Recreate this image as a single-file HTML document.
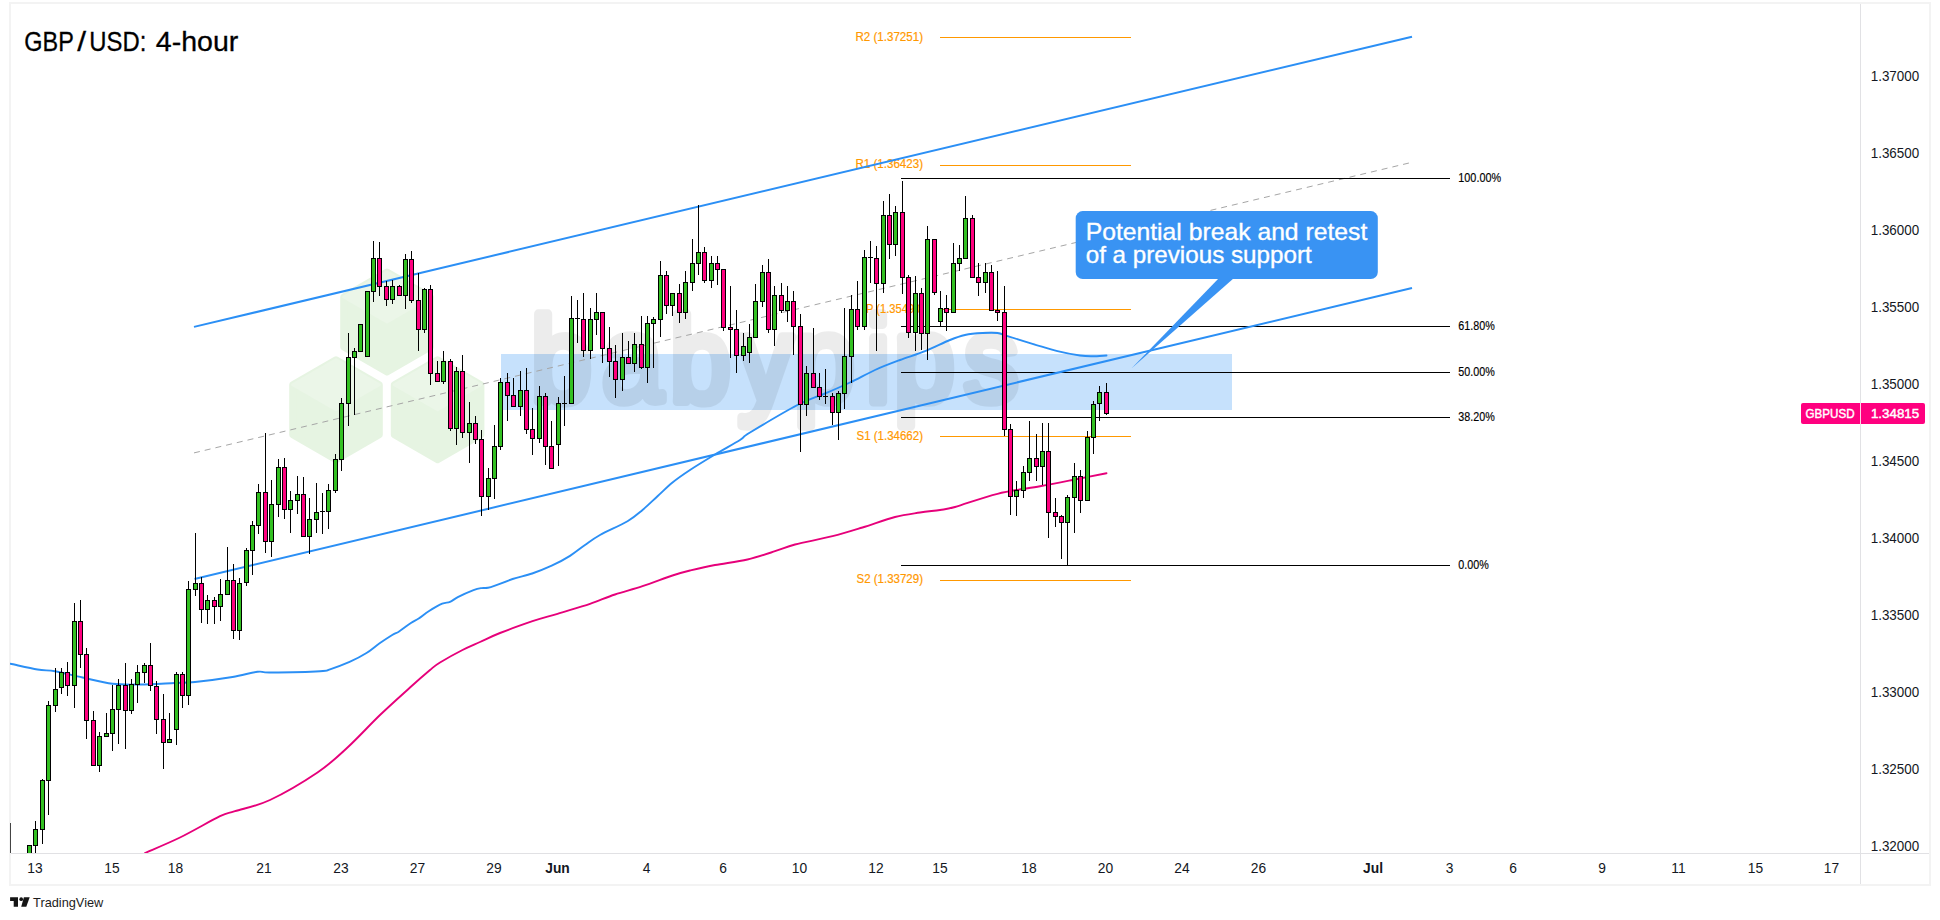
<!DOCTYPE html>
<html><head><meta charset="utf-8"><title>GBP/USD: 4-hour</title>
<style>html,body{margin:0;padding:0;background:#fff;}body{width:1940px;height:920px;overflow:hidden;}svg{display:block;}</style>
</head><body>
<svg width="1940" height="920" viewBox="0 0 1940 920" font-family="Liberation Sans, Arial, sans-serif">
<rect width="1940" height="920" fill="#fff"/>
<rect x="10" y="3" width="1920" height="882" fill="#fff" stroke="#f3f3f3" stroke-width="2"/>
<rect x="1860" y="4" width="1" height="880" fill="#e1e1e4"/>
<rect x="11" y="853" width="1918" height="1" fill="#e1e1e4"/>
<defs><clipPath id="pane"><rect x="10" y="4" width="1850" height="849"/></clipPath></defs>
<g clip-path="url(#pane)">
<polygon points="387.0,272.0 430.3,297.0 430.3,347.0 387.0,372.0 343.7,347.0 343.7,297.0" fill="#e6f4e2" stroke="#e6f4e2" stroke-width="7" stroke-linejoin="round"/>
<polygon points="387.0,272.0 430.3,297.0 387.0,322.0 343.7,297.0" fill="#ebf6e8" stroke="#ebf6e8" stroke-width="3" stroke-linejoin="round"/>
<polygon points="336.0,359.7 379.3,384.7 379.3,434.7 336.0,459.7 292.7,434.7 292.7,384.7" fill="#e6f4e2" stroke="#e6f4e2" stroke-width="7" stroke-linejoin="round"/>
<polygon points="336.0,359.7 379.3,384.7 336.0,409.7 292.7,384.7" fill="#ebf6e8" stroke="#ebf6e8" stroke-width="3" stroke-linejoin="round"/>
<polygon points="437.6,359.7 480.9,384.7 480.9,434.7 437.6,459.7 394.3,434.7 394.3,384.7" fill="#e6f4e2" stroke="#e6f4e2" stroke-width="7" stroke-linejoin="round"/>
<polygon points="437.6,359.7 480.9,384.7 437.6,409.7 394.3,384.7" fill="#ebf6e8" stroke="#ebf6e8" stroke-width="3" stroke-linejoin="round"/>
<rect x="501" y="354" width="731" height="56" fill="#2b8ff5" fill-opacity="0.27"/>
<g opacity="0.07"><text transform="scale(0.9,1)" x="590.0 668.9 744.4 820.0 882.2 962.2 993.3 1071.1" y="401.5" font-size="121" fill="#000" stroke="#000" stroke-width="9.5" stroke-linejoin="round" stroke-linecap="round">babypips</text></g>
<line x1="194" y1="452.9" x2="1412" y2="162.3" stroke="#a6a6a6" stroke-width="1" stroke-dasharray="6 5"/>
<line x1="940" y1="37.5" x2="1131" y2="37.5" stroke="#ff9800" stroke-width="1"/>
<line x1="940" y1="165.5" x2="1131" y2="165.5" stroke="#ff9800" stroke-width="1"/>
<line x1="940" y1="309.5" x2="1131" y2="309.5" stroke="#ff9800" stroke-width="1"/>
<line x1="940" y1="436.5" x2="1131" y2="436.5" stroke="#ff9800" stroke-width="1"/>
<line x1="940" y1="580.5" x2="1131" y2="580.5" stroke="#ff9800" stroke-width="1"/>
<line x1="901" y1="178.5" x2="1450" y2="178.5" stroke="#000" stroke-width="1"/>
<line x1="901" y1="326.5" x2="1450" y2="326.5" stroke="#000" stroke-width="1"/>
<line x1="901" y1="372.5" x2="1450" y2="372.5" stroke="#000" stroke-width="1"/>
<line x1="901" y1="417.5" x2="1450" y2="417.5" stroke="#000" stroke-width="1"/>
<line x1="901" y1="565.5" x2="1450" y2="565.5" stroke="#000" stroke-width="1"/>
<text x="855.5" y="41.3" font-size="12" fill="#ff9800" stroke="#ff9800" stroke-width="0.2" textLength="67.5" lengthAdjust="spacingAndGlyphs">R2 (1.37251)</text>
<text x="855.5" y="168.3" font-size="12" fill="#ff9800" stroke="#ff9800" stroke-width="0.2" textLength="67.5" lengthAdjust="spacingAndGlyphs">R1 (1.36423)</text>
<text x="866" y="312.8" font-size="12" fill="#ff9800" stroke="#ff9800" stroke-width="0.2" textLength="58" lengthAdjust="spacingAndGlyphs">P (1.35490)</text>
<text x="856.5" y="440.3" font-size="12" fill="#ff9800" stroke="#ff9800" stroke-width="0.2" textLength="66.5" lengthAdjust="spacingAndGlyphs">S1 (1.34662)</text>
<text x="856.5" y="583.3" font-size="12" fill="#ff9800" stroke="#ff9800" stroke-width="0.2" textLength="66.5" lengthAdjust="spacingAndGlyphs">S2 (1.33729)</text>
<line x1="194" y1="326.9" x2="1412" y2="36.7" stroke="#2b8ff5" stroke-width="2"/>
<line x1="194.5" y1="579" x2="1412" y2="288" stroke="#2b8ff5" stroke-width="2"/>
<path d="M10.5,663.8 C15.0,664.7 30.1,668.2 37.5,669.5 C44.9,670.8 47.5,669.9 55.0,671.2 C62.5,672.6 72.9,675.4 82.5,677.5 C92.1,679.6 102.9,682.6 112.5,683.8 C122.1,684.9 129.6,684.6 140.0,684.5 C150.4,684.4 165.8,683.4 175.0,683.0 C184.2,682.6 185.4,683.0 195.0,682.0 C204.6,681.0 222.1,678.7 232.5,677.0 C242.9,675.3 251.2,672.5 257.5,671.8 C263.8,671.0 259.6,672.6 270.0,672.5 C280.4,672.4 310.0,671.8 320.0,671.2 C330.0,670.7 325.1,670.9 330.0,669.3 C334.9,667.7 343.5,664.6 349.6,661.9 C355.7,659.2 361.5,656.1 366.5,653.0 C371.5,649.9 375.2,646.3 379.6,643.3 C384.0,640.3 389.4,636.8 392.6,634.8 C395.9,632.8 396.1,633.5 399.1,631.5 C402.2,629.5 407.6,625.2 410.9,623.0 C414.2,620.8 415.7,620.5 418.7,618.5 C421.7,616.5 425.2,613.5 429.1,611.0 C433.0,608.5 438.7,605.2 442.2,603.7 C445.7,602.2 447.4,603.0 450.0,601.9 C452.6,600.8 453.9,599.2 457.8,597.2 C461.7,595.2 469.6,591.7 473.5,590.2 C477.4,588.7 478.9,588.5 481.3,588.1 C483.7,587.7 485.6,588.2 487.8,587.8 C490.0,587.4 490.2,587.4 494.3,585.9 C498.4,584.4 506.3,581.1 512.6,579.0 C518.9,576.9 525.7,575.7 532.2,573.5 C538.7,571.3 545.4,568.6 551.7,565.7 C558.0,562.8 564.5,559.4 570.0,555.9 C575.5,552.4 580.0,548.5 585.0,545.0 C590.0,541.5 592.9,539.0 600.0,535.0 C607.1,531.0 620.4,525.4 627.5,521.2 C634.6,517.1 637.5,514.2 642.5,510.0 C647.5,505.8 652.5,500.8 657.5,496.2 C662.5,491.7 667.1,486.9 672.5,482.5 C677.9,478.1 682.9,474.7 690.0,470.0 C697.1,465.3 706.7,459.5 715.0,454.5 C723.3,449.5 734.2,443.7 740.0,440.0 C745.8,436.3 740.4,438.3 750.0,432.5 C759.6,426.7 785.0,411.5 797.5,405.0 C810.0,398.5 816.2,397.2 825.0,393.5 C833.8,389.8 841.7,386.4 850.0,382.5 C858.3,378.6 866.7,373.8 875.0,370.0 C883.3,366.2 891.7,363.1 900.0,360.0 C908.3,356.9 916.7,354.6 925.0,351.2 C933.3,347.9 943.3,342.7 950.0,340.0 C956.7,337.3 959.6,336.2 965.0,335.0 C970.4,333.8 977.1,333.3 982.5,333.0 C987.9,332.7 993.3,332.5 997.5,333.0 C1001.7,333.5 1001.7,334.5 1007.5,336.2 C1013.3,338.0 1024.2,341.2 1032.5,343.8 C1040.8,346.2 1049.6,349.3 1057.5,351.2 C1065.4,353.2 1074.2,354.7 1080.0,355.5 C1085.8,356.3 1088.1,356.2 1092.5,356.2 C1096.9,356.2 1104.2,355.6 1106.5,355.5" fill="none" stroke="#2b8ff5" stroke-width="1.9" stroke-linejoin="round" stroke-linecap="round"/>
<path d="M145.0,853.0 C150.8,850.4 167.5,843.6 180.0,837.5 C192.5,831.4 210.8,820.6 220.0,816.2 C229.2,811.9 226.7,814.0 235.0,811.2 C243.3,808.5 256.2,806.5 270.0,800.0 C283.8,793.5 304.6,781.2 317.5,772.5 C330.4,763.8 337.1,757.1 347.5,747.5 C357.9,737.9 369.6,725.0 380.0,715.0 C390.4,705.0 401.7,695.0 410.0,687.5 C418.3,680.0 425.0,674.2 430.0,670.0 C435.0,665.8 434.6,665.8 440.0,662.5 C445.4,659.2 455.8,653.4 462.5,650.0 C469.2,646.6 473.8,644.8 480.0,642.0 C486.2,639.2 491.2,636.5 500.0,633.0 C508.8,629.5 522.9,624.5 532.5,621.2 C542.1,618.0 547.9,616.7 557.5,613.8 C567.1,610.8 580.4,607.0 590.0,603.8 C599.6,600.5 606.2,597.4 615.0,594.5 C623.8,591.6 632.9,589.4 642.5,586.2 C652.1,583.1 664.6,578.1 672.5,575.5 C680.4,572.9 682.9,572.2 690.0,570.5 C697.1,568.8 705.4,566.8 715.0,565.0 C724.6,563.2 737.5,561.8 747.5,559.5 C757.5,557.2 767.1,553.8 775.0,551.2 C782.9,548.8 785.4,547.0 795.0,544.5 C804.6,542.0 821.2,539.1 832.5,536.2 C843.8,533.4 852.1,530.7 862.5,527.5 C872.9,524.3 885.4,519.5 895.0,517.0 C904.6,514.5 912.5,513.7 920.0,512.5 C927.5,511.3 934.2,510.9 940.0,510.0 C945.8,509.1 945.4,509.7 955.0,507.0 C964.6,504.3 983.3,497.2 997.5,493.8 C1011.7,490.3 1027.5,488.5 1040.0,486.2 C1052.5,484.0 1061.4,482.2 1072.5,480.0 C1083.6,477.8 1100.8,474.4 1106.5,473.2" fill="none" stroke="#e6007a" stroke-width="1.9" stroke-linejoin="round" stroke-linecap="round"/>
<g shape-rendering="crispEdges">
<rect x="10" y="823" width="1" height="30" fill="#444"/>
<rect x="29.0" y="846" width="1" height="14" fill="#000"/>
<rect x="27.0" y="845" width="5" height="15" fill="#000"/>
<rect x="28.0" y="846" width="3" height="13" fill="#33c022"/>
<rect x="35.0" y="821" width="1" height="39" fill="#000"/>
<rect x="33.0" y="829" width="5" height="17" fill="#000"/>
<rect x="34.0" y="830" width="3" height="15" fill="#33c022"/>
<rect x="42.0" y="779" width="1" height="65" fill="#000"/>
<rect x="40.0" y="780" width="5" height="50" fill="#000"/>
<rect x="41.0" y="781" width="3" height="48" fill="#33c022"/>
<rect x="48.0" y="701" width="1" height="114" fill="#000"/>
<rect x="46.0" y="705" width="5" height="76" fill="#000"/>
<rect x="47.0" y="706" width="3" height="74" fill="#33c022"/>
<rect x="55.0" y="668" width="1" height="44" fill="#000"/>
<rect x="53.0" y="689" width="5" height="17" fill="#000"/>
<rect x="54.0" y="690" width="3" height="15" fill="#33c022"/>
<rect x="61.0" y="668" width="1" height="26" fill="#000"/>
<rect x="59.0" y="672" width="5" height="16" fill="#000"/>
<rect x="60.0" y="673" width="3" height="14" fill="#33c022"/>
<rect x="67.0" y="662" width="1" height="34" fill="#000"/>
<rect x="65.0" y="672" width="5" height="14" fill="#000"/>
<rect x="66.0" y="673" width="3" height="12" fill="#ff007f"/>
<rect x="74.0" y="603" width="1" height="105" fill="#000"/>
<rect x="72.0" y="621" width="5" height="65" fill="#000"/>
<rect x="73.0" y="622" width="3" height="63" fill="#33c022"/>
<rect x="80.0" y="600" width="1" height="68" fill="#000"/>
<rect x="78.0" y="621" width="5" height="34" fill="#000"/>
<rect x="79.0" y="622" width="3" height="32" fill="#ff007f"/>
<rect x="86.0" y="648" width="1" height="91" fill="#000"/>
<rect x="84.0" y="654" width="5" height="67" fill="#000"/>
<rect x="85.0" y="655" width="3" height="65" fill="#ff007f"/>
<rect x="93.0" y="711" width="1" height="55" fill="#000"/>
<rect x="91.0" y="720" width="5" height="46" fill="#000"/>
<rect x="92.0" y="721" width="3" height="44" fill="#ff007f"/>
<rect x="99.0" y="732" width="1" height="40" fill="#000"/>
<rect x="97.0" y="736" width="5" height="30" fill="#000"/>
<rect x="98.0" y="737" width="3" height="28" fill="#33c022"/>
<rect x="106.0" y="713" width="1" height="24" fill="#000"/>
<rect x="104.0" y="733" width="5" height="4" fill="#000"/>
<rect x="105.0" y="734" width="3" height="2" fill="#33c022"/>
<rect x="112.0" y="685" width="1" height="66" fill="#000"/>
<rect x="110.0" y="709" width="5" height="25" fill="#000"/>
<rect x="111.0" y="710" width="3" height="23" fill="#33c022"/>
<rect x="118.0" y="679" width="1" height="65" fill="#000"/>
<rect x="116.0" y="685" width="5" height="25" fill="#000"/>
<rect x="117.0" y="686" width="3" height="23" fill="#33c022"/>
<rect x="125.0" y="663" width="1" height="86" fill="#000"/>
<rect x="123.0" y="685" width="5" height="26" fill="#000"/>
<rect x="124.0" y="686" width="3" height="24" fill="#ff007f"/>
<rect x="131.0" y="679" width="1" height="35" fill="#000"/>
<rect x="129.0" y="684" width="5" height="27" fill="#000"/>
<rect x="130.0" y="685" width="3" height="25" fill="#33c022"/>
<rect x="137.0" y="665" width="1" height="38" fill="#000"/>
<rect x="135.0" y="672" width="5" height="13" fill="#000"/>
<rect x="136.0" y="673" width="3" height="11" fill="#33c022"/>
<rect x="144.0" y="663" width="1" height="20" fill="#000"/>
<rect x="142.0" y="665" width="5" height="8" fill="#000"/>
<rect x="143.0" y="666" width="3" height="6" fill="#33c022"/>
<rect x="150.0" y="643" width="1" height="48" fill="#000"/>
<rect x="148.0" y="665" width="5" height="21" fill="#000"/>
<rect x="149.0" y="666" width="3" height="19" fill="#ff007f"/>
<rect x="156.0" y="681" width="1" height="53" fill="#000"/>
<rect x="154.0" y="686" width="5" height="34" fill="#000"/>
<rect x="155.0" y="687" width="3" height="32" fill="#ff007f"/>
<rect x="163.0" y="694" width="1" height="75" fill="#000"/>
<rect x="161.0" y="719" width="5" height="24" fill="#000"/>
<rect x="162.0" y="720" width="3" height="22" fill="#ff007f"/>
<rect x="169.0" y="713" width="1" height="30" fill="#000"/>
<rect x="167.0" y="739" width="5" height="4" fill="#000"/>
<rect x="168.0" y="740" width="3" height="2" fill="#33c022"/>
<rect x="176.0" y="672" width="1" height="73" fill="#000"/>
<rect x="174.0" y="674" width="5" height="56" fill="#000"/>
<rect x="175.0" y="675" width="3" height="54" fill="#33c022"/>
<rect x="182.0" y="672" width="1" height="36" fill="#000"/>
<rect x="180.0" y="674" width="5" height="22" fill="#000"/>
<rect x="181.0" y="675" width="3" height="20" fill="#ff007f"/>
<rect x="188.0" y="581" width="1" height="124" fill="#000"/>
<rect x="186.0" y="589" width="5" height="107" fill="#000"/>
<rect x="187.0" y="590" width="3" height="105" fill="#33c022"/>
<rect x="195.0" y="533" width="1" height="63" fill="#000"/>
<rect x="193.0" y="583" width="5" height="7" fill="#000"/>
<rect x="194.0" y="584" width="3" height="5" fill="#33c022"/>
<rect x="201.0" y="577" width="1" height="46" fill="#000"/>
<rect x="199.0" y="583" width="5" height="27" fill="#000"/>
<rect x="200.0" y="584" width="3" height="25" fill="#ff007f"/>
<rect x="207.0" y="595" width="1" height="29" fill="#000"/>
<rect x="205.0" y="600" width="5" height="10" fill="#000"/>
<rect x="206.0" y="601" width="3" height="8" fill="#33c022"/>
<rect x="214.0" y="597" width="1" height="27" fill="#000"/>
<rect x="212.0" y="600" width="5" height="7" fill="#000"/>
<rect x="213.0" y="601" width="3" height="5" fill="#ff007f"/>
<rect x="220.0" y="579" width="1" height="42" fill="#000"/>
<rect x="218.0" y="594" width="5" height="13" fill="#000"/>
<rect x="219.0" y="595" width="3" height="11" fill="#33c022"/>
<rect x="227.0" y="547" width="1" height="48" fill="#000"/>
<rect x="225.0" y="580" width="5" height="15" fill="#000"/>
<rect x="226.0" y="581" width="3" height="13" fill="#33c022"/>
<rect x="233.0" y="564" width="1" height="75" fill="#000"/>
<rect x="231.0" y="580" width="5" height="51" fill="#000"/>
<rect x="232.0" y="581" width="3" height="49" fill="#ff007f"/>
<rect x="239.0" y="578" width="1" height="62" fill="#000"/>
<rect x="237.0" y="583" width="5" height="48" fill="#000"/>
<rect x="238.0" y="584" width="3" height="46" fill="#33c022"/>
<rect x="246.0" y="548" width="1" height="38" fill="#000"/>
<rect x="244.0" y="550" width="5" height="33" fill="#000"/>
<rect x="245.0" y="551" width="3" height="31" fill="#33c022"/>
<rect x="252.0" y="521" width="1" height="54" fill="#000"/>
<rect x="250.0" y="525" width="5" height="26" fill="#000"/>
<rect x="251.0" y="526" width="3" height="24" fill="#33c022"/>
<rect x="258.0" y="484" width="1" height="50" fill="#000"/>
<rect x="256.0" y="492" width="5" height="34" fill="#000"/>
<rect x="257.0" y="493" width="3" height="32" fill="#33c022"/>
<rect x="265.0" y="433" width="1" height="120" fill="#000"/>
<rect x="263.0" y="492" width="5" height="50" fill="#000"/>
<rect x="264.0" y="493" width="3" height="48" fill="#ff007f"/>
<rect x="271.0" y="480" width="1" height="77" fill="#000"/>
<rect x="269.0" y="504" width="5" height="38" fill="#000"/>
<rect x="270.0" y="505" width="3" height="36" fill="#33c022"/>
<rect x="278.0" y="459" width="1" height="58" fill="#000"/>
<rect x="276.0" y="467" width="5" height="38" fill="#000"/>
<rect x="277.0" y="468" width="3" height="36" fill="#33c022"/>
<rect x="284.0" y="458" width="1" height="61" fill="#000"/>
<rect x="282.0" y="467" width="5" height="43" fill="#000"/>
<rect x="283.0" y="468" width="3" height="41" fill="#ff007f"/>
<rect x="290.0" y="491" width="1" height="42" fill="#000"/>
<rect x="288.0" y="500" width="5" height="10" fill="#000"/>
<rect x="289.0" y="501" width="3" height="8" fill="#33c022"/>
<rect x="297.0" y="476" width="1" height="38" fill="#000"/>
<rect x="295.0" y="494" width="5" height="7" fill="#000"/>
<rect x="296.0" y="495" width="3" height="5" fill="#33c022"/>
<rect x="303.0" y="477" width="1" height="60" fill="#000"/>
<rect x="301.0" y="494" width="5" height="43" fill="#000"/>
<rect x="302.0" y="495" width="3" height="41" fill="#ff007f"/>
<rect x="309.0" y="498" width="1" height="56" fill="#000"/>
<rect x="307.0" y="519" width="5" height="18" fill="#000"/>
<rect x="308.0" y="520" width="3" height="16" fill="#33c022"/>
<rect x="316.0" y="483" width="1" height="50" fill="#000"/>
<rect x="314.0" y="512" width="5" height="8" fill="#000"/>
<rect x="315.0" y="513" width="3" height="6" fill="#33c022"/>
<rect x="322.0" y="493" width="1" height="41" fill="#000"/>
<rect x="320.0" y="510.5" width="5" height="1" fill="#000"/>
<rect x="328.0" y="484" width="1" height="45" fill="#000"/>
<rect x="326.0" y="490" width="5" height="22" fill="#000"/>
<rect x="327.0" y="491" width="3" height="20" fill="#33c022"/>
<rect x="335.0" y="454" width="1" height="39" fill="#000"/>
<rect x="333.0" y="459" width="5" height="32" fill="#000"/>
<rect x="334.0" y="460" width="3" height="30" fill="#33c022"/>
<rect x="341.0" y="398" width="1" height="73" fill="#000"/>
<rect x="339.0" y="403" width="5" height="57" fill="#000"/>
<rect x="340.0" y="404" width="3" height="55" fill="#33c022"/>
<rect x="348.0" y="333" width="1" height="93" fill="#000"/>
<rect x="346.0" y="357" width="5" height="47" fill="#000"/>
<rect x="347.0" y="358" width="3" height="45" fill="#33c022"/>
<rect x="354.0" y="348" width="1" height="67" fill="#000"/>
<rect x="352.0" y="351" width="5" height="7" fill="#000"/>
<rect x="353.0" y="352" width="3" height="5" fill="#33c022"/>
<rect x="360.0" y="325" width="1" height="27" fill="#000"/>
<rect x="358.0" y="324" width="5" height="28" fill="#000"/>
<rect x="359.0" y="325" width="3" height="26" fill="#33c022"/>
<rect x="367.0" y="292" width="1" height="65" fill="#000"/>
<rect x="365.0" y="291" width="5" height="66" fill="#000"/>
<rect x="366.0" y="292" width="3" height="64" fill="#33c022"/>
<rect x="373.0" y="241" width="1" height="61" fill="#000"/>
<rect x="371.0" y="258" width="5" height="34" fill="#000"/>
<rect x="372.0" y="259" width="3" height="32" fill="#33c022"/>
<rect x="379.0" y="242" width="1" height="54" fill="#000"/>
<rect x="377.0" y="258" width="5" height="29" fill="#000"/>
<rect x="378.0" y="259" width="3" height="27" fill="#ff007f"/>
<rect x="386.0" y="281" width="1" height="25" fill="#000"/>
<rect x="384.0" y="286" width="5" height="14" fill="#000"/>
<rect x="385.0" y="287" width="3" height="12" fill="#ff007f"/>
<rect x="392.0" y="280" width="1" height="24" fill="#000"/>
<rect x="390.0" y="286" width="5" height="14" fill="#000"/>
<rect x="391.0" y="287" width="3" height="12" fill="#33c022"/>
<rect x="399.0" y="285" width="1" height="11" fill="#000"/>
<rect x="397.0" y="286" width="5" height="10" fill="#000"/>
<rect x="398.0" y="287" width="3" height="8" fill="#ff007f"/>
<rect x="405.0" y="254" width="1" height="55" fill="#000"/>
<rect x="403.0" y="259" width="5" height="37" fill="#000"/>
<rect x="404.0" y="260" width="3" height="35" fill="#33c022"/>
<rect x="411.0" y="251" width="1" height="52" fill="#000"/>
<rect x="409.0" y="259" width="5" height="42" fill="#000"/>
<rect x="410.0" y="260" width="3" height="40" fill="#ff007f"/>
<rect x="418.0" y="273" width="1" height="78" fill="#000"/>
<rect x="416.0" y="300" width="5" height="30" fill="#000"/>
<rect x="417.0" y="301" width="3" height="28" fill="#ff007f"/>
<rect x="424.0" y="288" width="1" height="45" fill="#000"/>
<rect x="422.0" y="289" width="5" height="41" fill="#000"/>
<rect x="423.0" y="290" width="3" height="39" fill="#33c022"/>
<rect x="430.0" y="285" width="1" height="100" fill="#000"/>
<rect x="428.0" y="289" width="5" height="85" fill="#000"/>
<rect x="429.0" y="290" width="3" height="83" fill="#ff007f"/>
<rect x="437.0" y="361" width="1" height="21" fill="#000"/>
<rect x="435.0" y="373" width="5" height="9" fill="#000"/>
<rect x="436.0" y="374" width="3" height="7" fill="#ff007f"/>
<rect x="443.0" y="351" width="1" height="33" fill="#000"/>
<rect x="441.0" y="361" width="5" height="21" fill="#000"/>
<rect x="442.0" y="362" width="3" height="19" fill="#33c022"/>
<rect x="450.0" y="359" width="1" height="72" fill="#000"/>
<rect x="448.0" y="361" width="5" height="68" fill="#000"/>
<rect x="449.0" y="362" width="3" height="66" fill="#ff007f"/>
<rect x="456.0" y="367" width="1" height="78" fill="#000"/>
<rect x="454.0" y="371" width="5" height="58" fill="#000"/>
<rect x="455.0" y="372" width="3" height="56" fill="#33c022"/>
<rect x="462.0" y="355" width="1" height="83" fill="#000"/>
<rect x="460.0" y="371" width="5" height="62" fill="#000"/>
<rect x="461.0" y="372" width="3" height="60" fill="#ff007f"/>
<rect x="469.0" y="402" width="1" height="61" fill="#000"/>
<rect x="467.0" y="423" width="5" height="10" fill="#000"/>
<rect x="468.0" y="424" width="3" height="8" fill="#33c022"/>
<rect x="475.0" y="416" width="1" height="28" fill="#000"/>
<rect x="473.0" y="423" width="5" height="17" fill="#000"/>
<rect x="474.0" y="424" width="3" height="15" fill="#ff007f"/>
<rect x="481.0" y="430" width="1" height="86" fill="#000"/>
<rect x="479.0" y="439" width="5" height="58" fill="#000"/>
<rect x="480.0" y="440" width="3" height="56" fill="#ff007f"/>
<rect x="488.0" y="468" width="1" height="42" fill="#000"/>
<rect x="486.0" y="478" width="5" height="19" fill="#000"/>
<rect x="487.0" y="479" width="3" height="17" fill="#33c022"/>
<rect x="494.0" y="425" width="1" height="74" fill="#000"/>
<rect x="492.0" y="446" width="5" height="33" fill="#000"/>
<rect x="493.0" y="447" width="3" height="31" fill="#33c022"/>
<rect x="500.0" y="378" width="1" height="72" fill="#000"/>
<rect x="498.0" y="382" width="5" height="65" fill="#000"/>
<rect x="499.0" y="383" width="3" height="63" fill="#33c022"/>
<rect x="507.0" y="373" width="1" height="48" fill="#000"/>
<rect x="505.0" y="382" width="5" height="14" fill="#000"/>
<rect x="506.0" y="383" width="3" height="12" fill="#ff007f"/>
<rect x="513.0" y="378" width="1" height="29" fill="#000"/>
<rect x="511.0" y="395" width="5" height="12" fill="#000"/>
<rect x="512.0" y="396" width="3" height="10" fill="#ff007f"/>
<rect x="520.0" y="371" width="1" height="45" fill="#000"/>
<rect x="518.0" y="390" width="5" height="17" fill="#000"/>
<rect x="519.0" y="391" width="3" height="15" fill="#33c022"/>
<rect x="526.0" y="368" width="1" height="66" fill="#000"/>
<rect x="524.0" y="390" width="5" height="40" fill="#000"/>
<rect x="525.0" y="391" width="3" height="38" fill="#ff007f"/>
<rect x="532.0" y="408" width="1" height="47" fill="#000"/>
<rect x="530.0" y="429" width="5" height="10" fill="#000"/>
<rect x="531.0" y="430" width="3" height="8" fill="#ff007f"/>
<rect x="539.0" y="386" width="1" height="57" fill="#000"/>
<rect x="537.0" y="396" width="5" height="43" fill="#000"/>
<rect x="538.0" y="397" width="3" height="41" fill="#33c022"/>
<rect x="545.0" y="393" width="1" height="72" fill="#000"/>
<rect x="543.0" y="396" width="5" height="51" fill="#000"/>
<rect x="544.0" y="397" width="3" height="49" fill="#ff007f"/>
<rect x="551.0" y="421" width="1" height="48" fill="#000"/>
<rect x="549.0" y="446" width="5" height="23" fill="#000"/>
<rect x="550.0" y="447" width="3" height="21" fill="#ff007f"/>
<rect x="558.0" y="397" width="1" height="69" fill="#000"/>
<rect x="556.0" y="403" width="5" height="42" fill="#000"/>
<rect x="557.0" y="404" width="3" height="40" fill="#33c022"/>
<rect x="564.0" y="376" width="1" height="50" fill="#000"/>
<rect x="562.0" y="402.5" width="5" height="1" fill="#000"/>
<rect x="571.0" y="296" width="1" height="108" fill="#000"/>
<rect x="569.0" y="318" width="5" height="86" fill="#000"/>
<rect x="570.0" y="319" width="3" height="84" fill="#33c022"/>
<rect x="577.0" y="300" width="1" height="43" fill="#000"/>
<rect x="575.0" y="317.5" width="5" height="1" fill="#000"/>
<rect x="583.0" y="293" width="1" height="64" fill="#000"/>
<rect x="581.0" y="319" width="5" height="32" fill="#000"/>
<rect x="582.0" y="320" width="3" height="30" fill="#ff007f"/>
<rect x="590.0" y="308" width="1" height="51" fill="#000"/>
<rect x="588.0" y="319" width="5" height="32" fill="#000"/>
<rect x="589.0" y="320" width="3" height="30" fill="#33c022"/>
<rect x="596.0" y="293" width="1" height="42" fill="#000"/>
<rect x="594.0" y="312" width="5" height="8" fill="#000"/>
<rect x="595.0" y="313" width="3" height="6" fill="#33c022"/>
<rect x="602.0" y="313" width="1" height="50" fill="#000"/>
<rect x="600.0" y="312" width="5" height="37" fill="#000"/>
<rect x="601.0" y="313" width="3" height="35" fill="#ff007f"/>
<rect x="609.0" y="327" width="1" height="50" fill="#000"/>
<rect x="607.0" y="348" width="5" height="14" fill="#000"/>
<rect x="608.0" y="349" width="3" height="12" fill="#ff007f"/>
<rect x="615.0" y="345" width="1" height="53" fill="#000"/>
<rect x="613.0" y="361" width="5" height="19" fill="#000"/>
<rect x="614.0" y="362" width="3" height="17" fill="#ff007f"/>
<rect x="622.0" y="333" width="1" height="58" fill="#000"/>
<rect x="620.0" y="357" width="5" height="23" fill="#000"/>
<rect x="621.0" y="358" width="3" height="21" fill="#33c022"/>
<rect x="628.0" y="341" width="1" height="23" fill="#000"/>
<rect x="626.0" y="357" width="5" height="7" fill="#000"/>
<rect x="627.0" y="358" width="3" height="5" fill="#ff007f"/>
<rect x="634.0" y="333" width="1" height="39" fill="#000"/>
<rect x="632.0" y="344" width="5" height="20" fill="#000"/>
<rect x="633.0" y="345" width="3" height="18" fill="#33c022"/>
<rect x="641.0" y="316" width="1" height="53" fill="#000"/>
<rect x="639.0" y="344" width="5" height="24" fill="#000"/>
<rect x="640.0" y="345" width="3" height="22" fill="#ff007f"/>
<rect x="647.0" y="316" width="1" height="67" fill="#000"/>
<rect x="645.0" y="323" width="5" height="45" fill="#000"/>
<rect x="646.0" y="324" width="3" height="43" fill="#33c022"/>
<rect x="653.0" y="317" width="1" height="51" fill="#000"/>
<rect x="651.0" y="319" width="5" height="5" fill="#000"/>
<rect x="652.0" y="320" width="3" height="3" fill="#33c022"/>
<rect x="660.0" y="261" width="1" height="76" fill="#000"/>
<rect x="658.0" y="275" width="5" height="45" fill="#000"/>
<rect x="659.0" y="276" width="3" height="43" fill="#33c022"/>
<rect x="666.0" y="271" width="1" height="43" fill="#000"/>
<rect x="664.0" y="275" width="5" height="31" fill="#000"/>
<rect x="665.0" y="276" width="3" height="29" fill="#ff007f"/>
<rect x="672.0" y="293" width="1" height="23" fill="#000"/>
<rect x="670.0" y="293" width="5" height="13" fill="#000"/>
<rect x="671.0" y="294" width="3" height="11" fill="#33c022"/>
<rect x="679.0" y="284" width="1" height="39" fill="#000"/>
<rect x="677.0" y="293" width="5" height="20" fill="#000"/>
<rect x="678.0" y="294" width="3" height="18" fill="#ff007f"/>
<rect x="685.0" y="271" width="1" height="48" fill="#000"/>
<rect x="683.0" y="282" width="5" height="31" fill="#000"/>
<rect x="684.0" y="283" width="3" height="29" fill="#33c022"/>
<rect x="692.0" y="239" width="1" height="52" fill="#000"/>
<rect x="690.0" y="263" width="5" height="20" fill="#000"/>
<rect x="691.0" y="264" width="3" height="18" fill="#33c022"/>
<rect x="698.0" y="205" width="1" height="70" fill="#000"/>
<rect x="696.0" y="252" width="5" height="12" fill="#000"/>
<rect x="697.0" y="253" width="3" height="10" fill="#33c022"/>
<rect x="704.0" y="247" width="1" height="36" fill="#000"/>
<rect x="702.0" y="252" width="5" height="29" fill="#000"/>
<rect x="703.0" y="253" width="3" height="27" fill="#ff007f"/>
<rect x="711.0" y="256" width="1" height="32" fill="#000"/>
<rect x="709.0" y="263" width="5" height="18" fill="#000"/>
<rect x="710.0" y="264" width="3" height="16" fill="#33c022"/>
<rect x="717.0" y="256" width="1" height="29" fill="#000"/>
<rect x="715.0" y="263" width="5" height="7" fill="#000"/>
<rect x="716.0" y="264" width="3" height="5" fill="#ff007f"/>
<rect x="723.0" y="270" width="1" height="61" fill="#000"/>
<rect x="721.0" y="269" width="5" height="59" fill="#000"/>
<rect x="722.0" y="270" width="3" height="57" fill="#ff007f"/>
<rect x="730.0" y="286" width="1" height="72" fill="#000"/>
<rect x="728.0" y="327" width="5" height="3" fill="#000"/>
<rect x="729.0" y="328" width="3" height="1" fill="#ff007f"/>
<rect x="736.0" y="310" width="1" height="63" fill="#000"/>
<rect x="734.0" y="329" width="5" height="27" fill="#000"/>
<rect x="735.0" y="330" width="3" height="25" fill="#ff007f"/>
<rect x="743.0" y="333" width="1" height="28" fill="#000"/>
<rect x="741.0" y="346" width="5" height="10" fill="#000"/>
<rect x="742.0" y="347" width="3" height="8" fill="#33c022"/>
<rect x="749.0" y="324" width="1" height="39" fill="#000"/>
<rect x="747.0" y="337" width="5" height="16" fill="#000"/>
<rect x="748.0" y="338" width="3" height="14" fill="#33c022"/>
<rect x="755.0" y="284" width="1" height="54" fill="#000"/>
<rect x="753.0" y="301" width="5" height="37" fill="#000"/>
<rect x="754.0" y="302" width="3" height="35" fill="#33c022"/>
<rect x="762.0" y="265" width="1" height="42" fill="#000"/>
<rect x="760.0" y="272" width="5" height="30" fill="#000"/>
<rect x="761.0" y="273" width="3" height="28" fill="#33c022"/>
<rect x="768.0" y="259" width="1" height="74" fill="#000"/>
<rect x="766.0" y="272" width="5" height="58" fill="#000"/>
<rect x="767.0" y="273" width="3" height="56" fill="#ff007f"/>
<rect x="774.0" y="286" width="1" height="60" fill="#000"/>
<rect x="772.0" y="295" width="5" height="35" fill="#000"/>
<rect x="773.0" y="296" width="3" height="33" fill="#33c022"/>
<rect x="781.0" y="283" width="1" height="30" fill="#000"/>
<rect x="779.0" y="295" width="5" height="16" fill="#000"/>
<rect x="780.0" y="296" width="3" height="14" fill="#ff007f"/>
<rect x="787.0" y="286" width="1" height="36" fill="#000"/>
<rect x="785.0" y="301" width="5" height="10" fill="#000"/>
<rect x="786.0" y="302" width="3" height="8" fill="#33c022"/>
<rect x="793.0" y="291" width="1" height="64" fill="#000"/>
<rect x="791.0" y="301" width="5" height="26" fill="#000"/>
<rect x="792.0" y="302" width="3" height="24" fill="#ff007f"/>
<rect x="800.0" y="314" width="1" height="138" fill="#000"/>
<rect x="798.0" y="326" width="5" height="79" fill="#000"/>
<rect x="799.0" y="327" width="3" height="77" fill="#ff007f"/>
<rect x="806.0" y="366" width="1" height="50" fill="#000"/>
<rect x="804.0" y="373" width="5" height="32" fill="#000"/>
<rect x="805.0" y="374" width="3" height="30" fill="#33c022"/>
<rect x="813.0" y="328" width="1" height="60" fill="#000"/>
<rect x="811.0" y="373" width="5" height="15" fill="#000"/>
<rect x="812.0" y="374" width="3" height="13" fill="#ff007f"/>
<rect x="819.0" y="373" width="1" height="27" fill="#000"/>
<rect x="817.0" y="387" width="5" height="10" fill="#000"/>
<rect x="818.0" y="388" width="3" height="8" fill="#ff007f"/>
<rect x="825.0" y="369" width="1" height="35" fill="#000"/>
<rect x="823.0" y="395.5" width="5" height="1" fill="#000"/>
<rect x="832.0" y="393" width="1" height="32" fill="#000"/>
<rect x="830.0" y="396" width="5" height="17" fill="#000"/>
<rect x="831.0" y="397" width="3" height="15" fill="#ff007f"/>
<rect x="838.0" y="391" width="1" height="49" fill="#000"/>
<rect x="836.0" y="393" width="5" height="20" fill="#000"/>
<rect x="837.0" y="394" width="3" height="18" fill="#33c022"/>
<rect x="844.0" y="308" width="1" height="101" fill="#000"/>
<rect x="842.0" y="356" width="5" height="38" fill="#000"/>
<rect x="843.0" y="357" width="3" height="36" fill="#33c022"/>
<rect x="851.0" y="295" width="1" height="88" fill="#000"/>
<rect x="849.0" y="309" width="5" height="48" fill="#000"/>
<rect x="850.0" y="310" width="3" height="46" fill="#33c022"/>
<rect x="857.0" y="281" width="1" height="49" fill="#000"/>
<rect x="855.0" y="309" width="5" height="18" fill="#000"/>
<rect x="856.0" y="310" width="3" height="16" fill="#ff007f"/>
<rect x="864.0" y="250" width="1" height="80" fill="#000"/>
<rect x="862.0" y="257" width="5" height="70" fill="#000"/>
<rect x="863.0" y="258" width="3" height="68" fill="#33c022"/>
<rect x="870.0" y="241" width="1" height="42" fill="#000"/>
<rect x="868.0" y="256.5" width="5" height="1" fill="#000"/>
<rect x="876.0" y="246" width="1" height="105" fill="#000"/>
<rect x="874.0" y="258" width="5" height="26" fill="#000"/>
<rect x="875.0" y="259" width="3" height="24" fill="#ff007f"/>
<rect x="883.0" y="201" width="1" height="92" fill="#000"/>
<rect x="881.0" y="215" width="5" height="69" fill="#000"/>
<rect x="882.0" y="216" width="3" height="67" fill="#33c022"/>
<rect x="889.0" y="194" width="1" height="65" fill="#000"/>
<rect x="887.0" y="215" width="5" height="30" fill="#000"/>
<rect x="888.0" y="216" width="3" height="28" fill="#ff007f"/>
<rect x="895.0" y="206" width="1" height="50" fill="#000"/>
<rect x="893.0" y="212" width="5" height="33" fill="#000"/>
<rect x="894.0" y="213" width="3" height="31" fill="#33c022"/>
<rect x="902.0" y="181" width="1" height="113" fill="#000"/>
<rect x="900.0" y="212" width="5" height="66" fill="#000"/>
<rect x="901.0" y="213" width="3" height="64" fill="#ff007f"/>
<rect x="908.0" y="275" width="1" height="63" fill="#000"/>
<rect x="906.0" y="277" width="5" height="56" fill="#000"/>
<rect x="907.0" y="278" width="3" height="54" fill="#ff007f"/>
<rect x="915.0" y="276" width="1" height="75" fill="#000"/>
<rect x="913.0" y="293" width="5" height="40" fill="#000"/>
<rect x="914.0" y="294" width="3" height="38" fill="#33c022"/>
<rect x="921.0" y="288" width="1" height="62" fill="#000"/>
<rect x="919.0" y="293" width="5" height="41" fill="#000"/>
<rect x="920.0" y="294" width="3" height="39" fill="#ff007f"/>
<rect x="927.0" y="226" width="1" height="134" fill="#000"/>
<rect x="925.0" y="239" width="5" height="95" fill="#000"/>
<rect x="926.0" y="240" width="3" height="93" fill="#33c022"/>
<rect x="934.0" y="240" width="1" height="55" fill="#000"/>
<rect x="932.0" y="239" width="5" height="54" fill="#000"/>
<rect x="933.0" y="240" width="3" height="52" fill="#ff007f"/>
<rect x="940.0" y="291" width="1" height="35" fill="#000"/>
<rect x="938.0" y="308" width="5" height="14" fill="#000"/>
<rect x="939.0" y="309" width="3" height="12" fill="#33c022"/>
<rect x="946.0" y="295" width="1" height="36" fill="#000"/>
<rect x="944.0" y="308" width="5" height="5" fill="#000"/>
<rect x="945.0" y="309" width="3" height="3" fill="#ff007f"/>
<rect x="953.0" y="243" width="1" height="70" fill="#000"/>
<rect x="951.0" y="263" width="5" height="50" fill="#000"/>
<rect x="952.0" y="264" width="3" height="48" fill="#33c022"/>
<rect x="959.0" y="245" width="1" height="26" fill="#000"/>
<rect x="957.0" y="258" width="5" height="6" fill="#000"/>
<rect x="958.0" y="259" width="3" height="4" fill="#33c022"/>
<rect x="965.0" y="196" width="1" height="63" fill="#000"/>
<rect x="963.0" y="218" width="5" height="41" fill="#000"/>
<rect x="964.0" y="219" width="3" height="39" fill="#33c022"/>
<rect x="972.0" y="215" width="1" height="63" fill="#000"/>
<rect x="970.0" y="218" width="5" height="60" fill="#000"/>
<rect x="971.0" y="219" width="3" height="58" fill="#ff007f"/>
<rect x="978.0" y="263" width="1" height="33" fill="#000"/>
<rect x="976.0" y="277" width="5" height="6" fill="#000"/>
<rect x="977.0" y="278" width="3" height="4" fill="#ff007f"/>
<rect x="985.0" y="263" width="1" height="30" fill="#000"/>
<rect x="983.0" y="272" width="5" height="11" fill="#000"/>
<rect x="984.0" y="273" width="3" height="9" fill="#33c022"/>
<rect x="991.0" y="265" width="1" height="46" fill="#000"/>
<rect x="989.0" y="272" width="5" height="39" fill="#000"/>
<rect x="990.0" y="273" width="3" height="37" fill="#ff007f"/>
<rect x="997.0" y="271" width="1" height="50" fill="#000"/>
<rect x="995.0" y="310" width="5" height="3" fill="#000"/>
<rect x="996.0" y="311" width="3" height="1" fill="#ff007f"/>
<rect x="1004.0" y="286" width="1" height="150" fill="#000"/>
<rect x="1002.0" y="312" width="5" height="118" fill="#000"/>
<rect x="1003.0" y="313" width="3" height="116" fill="#ff007f"/>
<rect x="1010.0" y="424" width="1" height="91" fill="#000"/>
<rect x="1008.0" y="429" width="5" height="68" fill="#000"/>
<rect x="1009.0" y="430" width="3" height="66" fill="#ff007f"/>
<rect x="1016.0" y="481" width="1" height="35" fill="#000"/>
<rect x="1014.0" y="490" width="5" height="7" fill="#000"/>
<rect x="1015.0" y="491" width="3" height="5" fill="#33c022"/>
<rect x="1023.0" y="466" width="1" height="32" fill="#000"/>
<rect x="1021.0" y="472" width="5" height="19" fill="#000"/>
<rect x="1022.0" y="473" width="3" height="17" fill="#33c022"/>
<rect x="1029.0" y="421" width="1" height="60" fill="#000"/>
<rect x="1027.0" y="458" width="5" height="15" fill="#000"/>
<rect x="1028.0" y="459" width="3" height="13" fill="#33c022"/>
<rect x="1036.0" y="434" width="1" height="47" fill="#000"/>
<rect x="1034.0" y="458" width="5" height="9" fill="#000"/>
<rect x="1035.0" y="459" width="3" height="7" fill="#ff007f"/>
<rect x="1042.0" y="423" width="1" height="62" fill="#000"/>
<rect x="1040.0" y="451" width="5" height="16" fill="#000"/>
<rect x="1041.0" y="452" width="3" height="14" fill="#33c022"/>
<rect x="1048.0" y="423" width="1" height="115" fill="#000"/>
<rect x="1046.0" y="451" width="5" height="62" fill="#000"/>
<rect x="1047.0" y="452" width="3" height="60" fill="#ff007f"/>
<rect x="1055.0" y="498" width="1" height="29" fill="#000"/>
<rect x="1053.0" y="512" width="5" height="5" fill="#000"/>
<rect x="1054.0" y="513" width="3" height="3" fill="#ff007f"/>
<rect x="1061.0" y="515" width="1" height="44" fill="#000"/>
<rect x="1059.0" y="516" width="5" height="7" fill="#000"/>
<rect x="1060.0" y="517" width="3" height="5" fill="#ff007f"/>
<rect x="1067.0" y="495" width="1" height="70" fill="#000"/>
<rect x="1065.0" y="497" width="5" height="26" fill="#000"/>
<rect x="1066.0" y="498" width="3" height="24" fill="#33c022"/>
<rect x="1074.0" y="463" width="1" height="70" fill="#000"/>
<rect x="1072.0" y="476" width="5" height="22" fill="#000"/>
<rect x="1073.0" y="477" width="3" height="20" fill="#33c022"/>
<rect x="1080.0" y="470" width="1" height="43" fill="#000"/>
<rect x="1078.0" y="476" width="5" height="25" fill="#000"/>
<rect x="1079.0" y="477" width="3" height="23" fill="#ff007f"/>
<rect x="1087.0" y="431" width="1" height="70" fill="#000"/>
<rect x="1085.0" y="437" width="5" height="64" fill="#000"/>
<rect x="1086.0" y="438" width="3" height="62" fill="#33c022"/>
<rect x="1093.0" y="401" width="1" height="53" fill="#000"/>
<rect x="1091.0" y="404" width="5" height="34" fill="#000"/>
<rect x="1092.0" y="405" width="3" height="32" fill="#33c022"/>
<rect x="1099.0" y="386" width="1" height="35" fill="#000"/>
<rect x="1097.0" y="392" width="5" height="12" fill="#000"/>
<rect x="1098.0" y="393" width="3" height="10" fill="#33c022"/>
<rect x="1106.0" y="383" width="1" height="32" fill="#000"/>
<rect x="1104.0" y="392" width="5" height="22" fill="#000"/>
<rect x="1105.0" y="393" width="3" height="20" fill="#ff007f"/>
</g>
<text x="1458.3" y="182.1" font-size="12.5" fill="#000" stroke="#000" stroke-width="0.15" textLength="42.8" lengthAdjust="spacingAndGlyphs">100.00%</text>
<text x="1458.3" y="330.1" font-size="12.5" fill="#000" stroke="#000" stroke-width="0.15" textLength="36.5" lengthAdjust="spacingAndGlyphs">61.80%</text>
<text x="1458.3" y="376.1" font-size="12.5" fill="#000" stroke="#000" stroke-width="0.15" textLength="36.5" lengthAdjust="spacingAndGlyphs">50.00%</text>
<text x="1458.3" y="421.1" font-size="12.5" fill="#000" stroke="#000" stroke-width="0.15" textLength="36.5" lengthAdjust="spacingAndGlyphs">38.20%</text>
<text x="1458.3" y="569.1" font-size="12.5" fill="#000" stroke="#000" stroke-width="0.15" textLength="30.5" lengthAdjust="spacingAndGlyphs">0.00%</text>
<polygon points="1219,278 1234,278 1131.4,368.4" fill="#3993f3"/>
<rect x="1075.7" y="211.1" width="302.1" height="68" rx="7" fill="#3993f3"/>
<text x="1085.7" y="239.6" font-size="24" fill="#fff" stroke="#fff" stroke-width="0.35" textLength="281.6" lengthAdjust="spacingAndGlyphs">Potential break and retest</text>
<text x="1085.7" y="263.4" font-size="24" fill="#fff" stroke="#fff" stroke-width="0.35" textLength="226" lengthAdjust="spacingAndGlyphs">of a previous support</text>
</g>
<text y="51.2" font-size="28.2" fill="#000" stroke="#000" stroke-width="0.3"><tspan x="24.3" textLength="49.5" lengthAdjust="spacingAndGlyphs">GBP</tspan><tspan x="77.3" textLength="8.8" lengthAdjust="spacingAndGlyphs">/</tspan><tspan x="89.3" textLength="57" lengthAdjust="spacingAndGlyphs">USD:</tspan> <tspan x="155.8" textLength="82.5" lengthAdjust="spacingAndGlyphs">4-hour</tspan></text>
<text x="1870.7" y="81" font-size="14.1" fill="#131722" textLength="48.5" lengthAdjust="spacingAndGlyphs">1.37000</text>
<text x="1870.7" y="158" font-size="14.1" fill="#131722" textLength="48.5" lengthAdjust="spacingAndGlyphs">1.36500</text>
<text x="1870.7" y="235" font-size="14.1" fill="#131722" textLength="48.5" lengthAdjust="spacingAndGlyphs">1.36000</text>
<text x="1870.7" y="312" font-size="14.1" fill="#131722" textLength="48.5" lengthAdjust="spacingAndGlyphs">1.35500</text>
<text x="1870.7" y="389" font-size="14.1" fill="#131722" textLength="48.5" lengthAdjust="spacingAndGlyphs">1.35000</text>
<text x="1870.7" y="466" font-size="14.1" fill="#131722" textLength="48.5" lengthAdjust="spacingAndGlyphs">1.34500</text>
<text x="1870.7" y="543" font-size="14.1" fill="#131722" textLength="48.5" lengthAdjust="spacingAndGlyphs">1.34000</text>
<text x="1870.7" y="620" font-size="14.1" fill="#131722" textLength="48.5" lengthAdjust="spacingAndGlyphs">1.33500</text>
<text x="1870.7" y="697" font-size="14.1" fill="#131722" textLength="48.5" lengthAdjust="spacingAndGlyphs">1.33000</text>
<text x="1870.7" y="774" font-size="14.1" fill="#131722" textLength="48.5" lengthAdjust="spacingAndGlyphs">1.32500</text>
<text x="1870.7" y="851" font-size="14.1" fill="#131722" textLength="48.5" lengthAdjust="spacingAndGlyphs">1.32000</text>
<rect x="1801" y="403" width="124" height="21" rx="2" fill="#ff007f"/>
<rect x="1860" y="403" width="1" height="21" fill="#ffd0e6"/>
<text x="1805.6" y="418.3" font-size="13" fill="#fff" stroke="#fff" stroke-width="0.45" textLength="49" lengthAdjust="spacingAndGlyphs">GBPUSD</text>
<text x="1870.9" y="418.3" font-size="13" fill="#fff" stroke="#fff" stroke-width="0.45" textLength="48.3" lengthAdjust="spacingAndGlyphs">1.34815</text>
<text x="35" y="873" font-size="13.8" fill="#131722" text-anchor="middle">13</text>
<text x="112" y="873" font-size="13.8" fill="#131722" text-anchor="middle">15</text>
<text x="175.5" y="873" font-size="13.8" fill="#131722" text-anchor="middle">18</text>
<text x="264" y="873" font-size="13.8" fill="#131722" text-anchor="middle">21</text>
<text x="341" y="873" font-size="13.8" fill="#131722" text-anchor="middle">23</text>
<text x="417.5" y="873" font-size="13.8" fill="#131722" text-anchor="middle">27</text>
<text x="494" y="873" font-size="13.8" fill="#131722" text-anchor="middle">29</text>
<text x="557.5" y="873" font-size="13.8" fill="#131722" text-anchor="middle" font-weight="bold">Jun</text>
<text x="646.5" y="873" font-size="13.8" fill="#131722" text-anchor="middle">4</text>
<text x="723" y="873" font-size="13.8" fill="#131722" text-anchor="middle">6</text>
<text x="799.5" y="873" font-size="13.8" fill="#131722" text-anchor="middle">10</text>
<text x="876" y="873" font-size="13.8" fill="#131722" text-anchor="middle">12</text>
<text x="940" y="873" font-size="13.8" fill="#131722" text-anchor="middle">15</text>
<text x="1029" y="873" font-size="13.8" fill="#131722" text-anchor="middle">18</text>
<text x="1105.5" y="873" font-size="13.8" fill="#131722" text-anchor="middle">20</text>
<text x="1182" y="873" font-size="13.8" fill="#131722" text-anchor="middle">24</text>
<text x="1258.5" y="873" font-size="13.8" fill="#131722" text-anchor="middle">26</text>
<text x="1373" y="873" font-size="13.8" fill="#131722" text-anchor="middle" font-weight="bold">Jul</text>
<text x="1449.5" y="873" font-size="13.8" fill="#131722" text-anchor="middle">3</text>
<text x="1513" y="873" font-size="13.8" fill="#131722" text-anchor="middle">6</text>
<text x="1602" y="873" font-size="13.8" fill="#131722" text-anchor="middle">9</text>
<text x="1678.5" y="873" font-size="13.8" fill="#131722" text-anchor="middle">11</text>
<text x="1755.5" y="873" font-size="13.8" fill="#131722" text-anchor="middle">15</text>
<text x="1831.5" y="873" font-size="13.8" fill="#131722" text-anchor="middle">17</text>
<g fill="#151515"><path d="M10.1 897.3h7.9v9.4h-4.3v-5.7h-3.6z"/><circle cx="21.2" cy="899.15" r="1.85"/><path d="M23.9 897.3h5.8l-3.4 9.4h-5.1z"/></g>
<text x="33.1" y="906.8" font-size="13.5" fill="#1c1c1c" textLength="70.2" lengthAdjust="spacingAndGlyphs">TradingView</text>
</svg>
</body></html>
